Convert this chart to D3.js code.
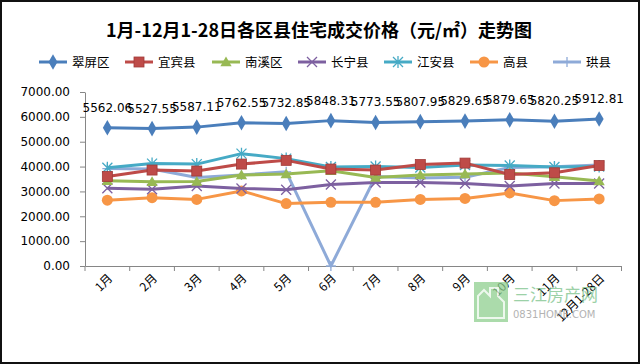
<!DOCTYPE html>
<html>
<head>
<meta charset="utf-8">
<script src="https://cdn.jsdelivr.net/npm/d3@7"></script>
<style>
  body { margin: 0; background: #fff; }
  svg text { font-family: "DejaVu Sans", sans-serif; }
  .cjk { font-family: "Noto Sans CJK SC", sans-serif; }
</style>
</head>
<body>
<svg id="chart" width="640" height="364"></svg>
<script>
// 月份（横轴）
var months = ["1月","2月","3月","4月","5月","6月","7月","8月","9月","10月","11月","12月1-28日"];

// 各区县成交均价（元/㎡）
var cuiping   = [5562.06, 5527.55, 5587.11, 5762.55, 5732.85, 5848.31, 5773.55, 5807.95, 5829.65, 5879.65, 5820.25, 5912.81];
var yibin     = [3600, 3860, 3820, 4100, 4250, 3900, 3860, 4080, 4140, 3680, 3750, 4040];
var nanxi     = [3430, 3390, 3400, 3660, 3700, 3830, 3560, 3660, 3700, 3740, 3590, 3420];
var changning = [3130, 3090, 3220, 3120, 3070, 3280, 3360, 3360, 3320, 3220, 3320, 3320];
var jiangan   = [3950, 4120, 4100, 4520, 4320, 3980, 4000, 3960, 4060, 4040, 3980, 4000];
var gaoxian   = [2650, 2750, 2680, 3020, 2510, 2560, 2560, 2680, 2720, 2940, 2630, 2700];
var gongxian  = [3920, 3900, 3560, 3660, 3790, 0, 3600, 3540, 3570, 3960, 3990, 4060];

var yTicks = [0, 1000, 2000, 3000, 4000, 5000, 6000, 7000];

var series = [
  { name: "翠屏区", values: cuiping,   color: "#4a7ebb", marker: "diamond" },
  { name: "宜宾县", values: yibin,     color: "#be4b48", marker: "square" },
  { name: "南溪区", values: nanxi,     color: "#98b954", marker: "triangle" },
  { name: "长宁县", values: changning, color: "#7d60a0", marker: "x" },
  { name: "江安县", values: jiangan,   color: "#46aac5", marker: "star" },
  { name: "高县",   values: gaoxian,   color: "#f79646", marker: "circle" },
  { name: "珙县",   values: gongxian,  color: "#8eaad8", marker: "plus" }
];

var svg = d3.select("#chart");

// rámeček
svg.append("rect")
  .attr("x", 1).attr("y", 1).attr("width", 638).attr("height", 362)
  .attr("fill", "#fff").attr("stroke", "#111").attr("stroke-width", 2);

// nadpis
svg.append("text")
  .attr("class", "cjk")
  .attr("x", 319).attr("y", 37)
  .attr("text-anchor", "middle")
  .attr("font-size", 18).attr("font-weight", "bold")
  .attr("fill", "#000")
  .text("1月-12月1-28日各区县住宅成交价格（元/㎡）走势图");

var x = d3.scaleBand().domain(months).range([85, 621.5]);
var y = d3.scaleLinear().domain([0, 7000]).range([266, 92]);

// osa Y
var yAxis = svg.append("g")
  .attr("transform", "translate(85,0)")
  .call(d3.axisLeft(y).tickValues(yTicks).tickFormat(d3.format(".2f")).tickSize(5).tickSizeOuter(0).tickPadding(10));
yAxis.selectAll("text").attr("font-size", 12).attr("fill", "#000")
  .style("font-family", "DejaVu Sans, sans-serif");
yAxis.selectAll("line, path").attr("stroke", "#868686");

// osa X
var xAxis = svg.append("g")
  .attr("transform", "translate(0,266)")
  .call(d3.axisBottom(x).tickSize(0).tickSizeOuter(0));
xAxis.select("path").attr("stroke", "#868686");
xAxis.selectAll(".tick text").remove();
xAxis.selectAll(".tick line").remove();

// čárky mezi kategoriemi
var edges = months.map(function (m) { return x(m); }).concat([x(months[months.length - 1]) + x.bandwidth()]);
svg.append("g").selectAll("line")
  .data(edges).enter().append("line")
  .attr("x1", function (d) { return d; }).attr("x2", function (d) { return d; })
  .attr("y1", 266).attr("y2", 271)
  .attr("stroke", "#868686");

// popisky měsíců pod úhlem
svg.append("g").selectAll("text")
  .data(months).enter().append("text")
  .attr("class", "cjk")
  .attr("text-anchor", "end")
  .attr("font-size", 12)
  .attr("fill", "#000")
  .attr("transform", function (d) {
    return "translate(" + (x(d) + x.bandwidth() / 2 + 6) + ",279) rotate(-45)";
  })
  .text(function (d) { return d; });

// vodoznak
var wm = svg.append("g").attr("opacity", 0.75);
wm.append("rect").attr("x", 474).attr("y", 282).attr("width", 34).attr("height", 40)
  .attr("fill", "#8fcf8f");
wm.append("path")
  .attr("d", "M478,318 L478,296 L484,290 L490,296 L490,288 L498,288 L498,296 L504,302 L504,318 Z")
  .attr("fill", "none").attr("stroke", "#e8f6e8").attr("stroke-width", 2);
wm.append("text").attr("class", "cjk").attr("x", 513).attr("y", 301)
  .attr("font-size", 17).attr("fill", "#7cc28a").text("三江房产网");
wm.append("text").attr("x", 513).attr("y", 318)
  .attr("font-size", 10).attr("fill", "#9a9a9a").text("0831HOME.COM");

// značky
function drawMarker(g, type, cx, cy, color) {
  if (type === "diamond") {
    g.append("path").attr("d", d3.symbol(d3.symbolDiamond, 70)())
      .attr("transform", "translate(" + cx + "," + cy + ")").attr("fill", color);
  } else if (type === "square") {
    g.append("rect").attr("x", cx - 5).attr("y", cy - 5).attr("width", 10).attr("height", 10)
      .attr("fill", color).attr("stroke", "#a03a37").attr("stroke-width", 0.8);
  } else if (type === "triangle") {
    g.append("path").attr("d", d3.symbol(d3.symbolTriangle, 55)())
      .attr("transform", "translate(" + cx + "," + (cy + 1) + ")").attr("fill", color);
  } else if (type === "circle") {
    g.append("circle").attr("cx", cx).attr("cy", cy).attr("r", 5.5).attr("fill", color);
  } else if (type === "x" || type === "star") {
    var r = 5;
    g.append("path")
      .attr("d", "M" + (cx - r) + "," + (cy - r) + "L" + (cx + r) + "," + (cy + r) +
                 "M" + (cx - r) + "," + (cy + r) + "L" + (cx + r) + "," + (cy - r) +
                 (type === "star" ? "M" + cx + "," + (cy - r - 1) + "L" + cx + "," + (cy + r + 1) : ""))
      .attr("stroke", color).attr("stroke-width", 1.3).attr("fill", "none");
  } else if (type === "plus") {
    var p = 5;
    g.append("path")
      .attr("d", "M" + (cx - p) + "," + cy + "L" + (cx + p) + "," + cy + "M" + cx + "," + (cy - p) + "L" + cx + "," + (cy + p))
      .attr("stroke", color).attr("stroke-width", 1.3);
  }
}

var line = d3.line()
  .x(function (d, i) { return x(months[i]) + x.bandwidth() / 2; })
  .y(function (d) { return y(d); });

// vykreslení řad (翠屏区 nahoru)
series.slice().reverse().forEach(function (s) {
  var g = svg.append("g");
  g.append("path").datum(s.values)
    .attr("d", line)
    .attr("fill", "none")
    .attr("stroke", s.color)
    .attr("stroke-width", 3)
    .attr("stroke-linejoin", "round");
  s.values.forEach(function (v, i) {
    drawMarker(g, s.marker, x(months[i]) + x.bandwidth() / 2, y(v), s.color);
  });
});

// popisky hodnot pro 翠屏区
svg.append("g").selectAll("text")
  .data(cuiping).enter().append("text")
  .attr("x", function (d, i) { return x(months[i]) + x.bandwidth() / 2; })
  .attr("y", function (d) { return y(d) - 16; })
  .attr("text-anchor", "middle")
  .attr("font-size", 12)
  .attr("fill", "#000")
  .text(function (d) { return d.toFixed(2); });

// legenda
var legendX = [53, 139, 226, 312, 398, 484, 567];
var leg = svg.append("g");
series.forEach(function (s, i) {
  var cx = legendX[i], cy = 62;
  leg.append("line")
    .attr("x1", cx - 14).attr("x2", cx + 14).attr("y1", cy).attr("y2", cy)
    .attr("stroke", s.color).attr("stroke-width", 3);
  drawMarker(leg, s.marker, cx, cy, s.color);
  leg.append("text").attr("class", "cjk")
    .attr("x", cx + 19).attr("y", cy + 4.5)
    .attr("font-size", 12.5).attr("fill", "#000")
    .text(s.name);
});
</script>
</body>
</html>
